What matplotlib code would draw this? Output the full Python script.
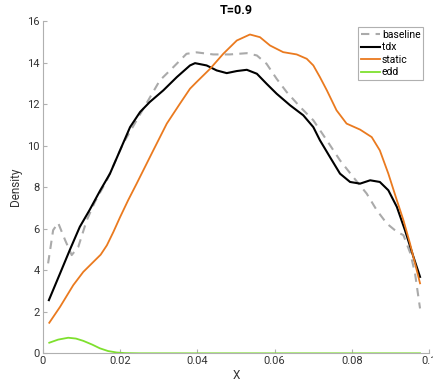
import matplotlib
matplotlib.use("Agg")
import matplotlib.pyplot as plt

plt.rcParams['font.family'] = ['Roboto', 'DejaVu Sans']

# values (x, density)
tdx_x = [0.0016, 0.0045, 0.0070, 0.0096, 0.0121, 0.0149, 0.0174, 0.0200, 0.0226,
         0.0252, 0.0277, 0.0312, 0.0347, 0.0381, 0.0394, 0.0424, 0.0450, 0.0476,
         0.0502, 0.0528, 0.0554, 0.0579, 0.0605, 0.0640, 0.0674, 0.0700, 0.0717,
         0.0743, 0.0769, 0.0795, 0.0821, 0.0847, 0.0872, 0.0894, 0.0916, 0.0937,
         0.0959, 0.0976]
tdx_y = [2.56, 3.85, 4.97, 6.09, 6.89, 7.85, 8.65, 9.77, 10.89,
         11.62, 12.10, 12.66, 13.30, 13.86, 13.97, 13.86, 13.62, 13.49,
         13.59, 13.65, 13.46, 12.98, 12.50, 11.94, 11.46, 10.89, 10.26,
         9.45, 8.65, 8.25, 8.17, 8.33, 8.25, 7.85, 7.05, 5.93,
         4.64, 3.68]

base_x = [0.0014, 0.0027, 0.0040, 0.0058, 0.0075, 0.0092, 0.0114, 0.0135, 0.0166,
          0.0208, 0.0243, 0.0278, 0.0303, 0.0338, 0.0372, 0.0398, 0.0441, 0.0484,
          0.0528, 0.0554, 0.0579, 0.0605, 0.0631, 0.0666, 0.0700, 0.0735, 0.0769,
          0.0803, 0.0838, 0.0864, 0.0890, 0.0916, 0.0933, 0.0951, 0.0963, 0.0976]
base_y = [4.33, 5.93, 6.28, 5.45, 4.73, 5.12, 6.41, 7.29, 8.33,
          10.10, 11.22, 12.34, 13.14, 13.78, 14.42, 14.49, 14.39, 14.39,
          14.45, 14.34, 13.94, 13.22, 12.58, 11.86, 11.22, 10.25, 9.29,
          8.49, 7.69, 6.89, 6.25, 5.85, 5.69, 4.81, 3.85, 2.16]

static_x = [0.0017, 0.0045, 0.0079, 0.0105, 0.0131, 0.0150, 0.0166, 0.0183, 0.0200,
            0.0221, 0.0243, 0.0286, 0.0321, 0.0355, 0.0381, 0.0398, 0.0433, 0.0467,
            0.0502, 0.0536, 0.0562, 0.0588, 0.0622, 0.0657, 0.0683, 0.0700, 0.0717,
            0.0735, 0.0760, 0.0786, 0.0821, 0.0851, 0.0872, 0.0894, 0.0916, 0.0933,
            0.0950, 0.0976]
static_y = [1.47, 2.24, 3.28, 3.92, 4.40, 4.75, 5.20, 5.85, 6.55,
            7.37, 8.17, 9.77, 11.06, 12.02, 12.74, 13.06, 13.70, 14.42,
            15.06, 15.35, 15.22, 14.82, 14.50, 14.39, 14.18, 13.86, 13.30,
            12.66, 11.70, 11.06, 10.77, 10.41, 9.77, 8.65, 7.37, 6.41,
            5.29, 3.37]

edd_x = [0.0017, 0.0040, 0.0066, 0.0086, 0.0105, 0.0128, 0.0148, 0.0169, 0.0191,
         0.0213, 0.0250, 0.0500, 0.0750, 0.0976]
edd_y = [0.51, 0.66, 0.75, 0.71, 0.60, 0.42, 0.24, 0.11, 0.04,
         0.01, 0.0, 0.0, 0.0, 0.0]

fig = plt.figure(figsize=(4.33, 3.88), dpi=100)
ax = fig.add_axes([0.0986, 0.0894, 0.8929, 0.8565])

ax.plot(base_x, base_y, '--', color='#aaaaaa', linewidth=1.5, dashes=(4, 3), label='baseline')
ax.plot(tdx_x, tdx_y, color='black', linewidth=1.5, label='tdx')
ax.plot(static_x, static_y, color='#ea7a1f', linewidth=1.3, label='static')
ax.plot(edd_x, edd_y, color='#7ee02e', linewidth=1.3, label='edd')

ax.set_xlim(0, 0.1)
ax.set_ylim(0, 16)
ax.set_xticks([0, 0.02, 0.04, 0.06, 0.08, 0.1])
ax.set_xticklabels(['0', '0.02', '0.04', '0.06', '0.08', '0.1'])
ax.set_yticks([0, 2, 4, 6, 8, 10, 12, 14, 16])

ax.spines['right'].set_visible(False)
ax.spines['top'].set_visible(False)
for s in ['left', 'bottom']:
    ax.spines[s].set_color('#b0b0b0')
    ax.spines[s].set_linewidth(0.8)
ax.tick_params(direction='in', length=3, width=0.8, color='#b0b0b0',
               labelsize=8, labelcolor='#333333', pad=2)

ax.set_title('T=0.9', fontsize=9, fontweight='bold', pad=5)
ax.set_xlabel('X', fontsize=8.5, color='#333333', labelpad=2)
ax.set_ylabel('Density', fontsize=8.5, color='#333333', labelpad=4)

leg = ax.legend(loc='upper right', bbox_to_anchor=(0.984, 0.982), borderaxespad=0,
                fontsize=7.5, fancybox=False, handlelength=1.8, handletextpad=0.2,
                labelspacing=0.25, borderpad=0.25, framealpha=1)
leg.get_frame().set_edgecolor('#b0b0b0')
leg.get_frame().set_linewidth(0.8)

plt.savefig('out.png', dpi=100)
